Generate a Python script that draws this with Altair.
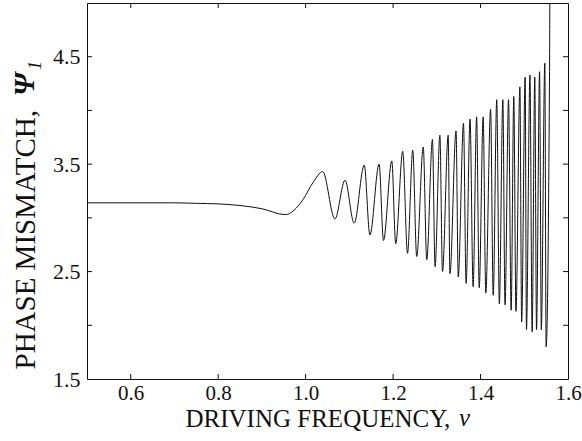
import altair as alt
import pandas as pd

# driving frequency (nu) and phase mismatch (psi_1)
nu = [0.50, 0.60, 0.70, 0.75, 0.80, 0.85, 0.90, 0.953, 0.994, 1.017, 1.039,
      1.067, 1.090, 1.111, 1.134, 1.147, 1.168, 1.178, 1.197, 1.206, 1.222,
      1.233, 1.245, 1.254, 1.269, 1.277, 1.290, 1.296, 1.307, 1.313, 1.326,
      1.330, 1.344, 1.349, 1.361, 1.367, 1.376, 1.383, 1.391, 1.397, 1.406,
      1.412, 1.423, 1.429, 1.437, 1.443, 1.451, 1.456, 1.464, 1.470, 1.476,
      1.481, 1.490, 1.494, 1.502, 1.505, 1.513, 1.518, 1.524, 1.528, 1.535,
      1.539, 1.547, 1.550, 1.558, 1.5585]
psi = [3.14, 3.14, 3.14, 3.135, 3.13, 3.115, 3.085, 3.03, 3.17, 3.33, 3.43,
       2.99, 3.35, 2.95, 3.49, 2.84, 3.50, 2.79, 3.53, 2.76, 3.62,
       2.67, 3.63, 2.64, 3.66, 2.61, 3.73, 2.545, 3.77, 2.50, 3.77,
       2.48, 3.81, 2.45, 3.88, 2.39, 3.92, 2.36, 3.94, 2.35, 3.94,
       2.30, 4.01, 2.28, 4.10, 2.20, 4.10, 2.19, 4.10, 2.14, 4.13,
       2.13, 4.22, 2.03, 4.31, 1.96, 4.33, 1.94, 4.31, 1.96, 4.36,
       1.96, 4.44, 1.80, 4.53, 5.20]

x_label_values = [0.6, 0.8, 1.0, 1.2, 1.4, 1.6]
y_label_values = [1.5, 2.5, 3.5, 4.5]
x_tick_values = [0.6, 0.8, 1.0, 1.2, 1.4]
y_tick_values = [2.0, 2.5, 3.0, 3.5, 4.0, 4.5]

W, H = 481, 376
TL = 5
FONT = "Liberation Serif"
INK = "#111111"

xscale = alt.Scale(domain=[0.5, 1.6], nice=False, zero=False)
yscale = alt.Scale(domain=[1.5, 5.0], nice=False, zero=False)

df = pd.DataFrame({"nu": nu, "psi": psi})

line = alt.Chart(df).mark_line(
    color=INK, strokeWidth=1.0, interpolate="monotone", clip=True
).encode(
    x=alt.X("nu:Q", scale=xscale, axis=alt.Axis(
        values=x_label_values, format=".1f", ticks=False, domain=False, grid=False,
        labelFont=FONT, labelFontSize=21, labelColor=INK, labelPadding=3,
        labelOverlap=False, labelFlush=False,
        title="DRIVING FREQUENCY,", titleFont=FONT, titleFontSize=25,
        titleFontWeight="normal", titleColor=INK, titleAlign="left",
        titleX=98, titleY=47, titleBaseline="alphabetic")),
    y=alt.Y("psi:Q", scale=yscale, axis=alt.Axis(
        values=y_label_values, format=".1f", ticks=False, domain=False, grid=False,
        labelFont=FONT, labelFontSize=22, labelColor=INK, labelPadding=7,
        labelOverlap=False, labelFlush=False,
        title="PHASE MISMATCH,", titleFont=FONT, titleFontSize=29,
        titleFontWeight="normal", titleColor=INK, titleAngle=270, titleAlign="left",
        titleX=-53, titleY=366, titleBaseline="alphabetic")),
)

xt = pd.DataFrame({"v": x_tick_values})
yt = pd.DataFrame({"v": y_tick_values})

tick_bottom = alt.Chart(xt).mark_rule(color=INK).encode(
    x=alt.X("v:Q", scale=xscale, axis=None), y=alt.value(H), y2=alt.value(H - TL))
tick_top = alt.Chart(xt).mark_rule(color=INK).encode(
    x=alt.X("v:Q", scale=xscale, axis=None), y=alt.value(0), y2=alt.value(TL))
tick_left = alt.Chart(yt).mark_rule(color=INK).encode(
    y=alt.Y("v:Q", scale=yscale, axis=None), x=alt.value(0), x2=alt.value(TL))
tick_right = alt.Chart(yt).mark_rule(color=INK).encode(
    y=alt.Y("v:Q", scale=yscale, axis=None), x=alt.value(W), x2=alt.value(W - TL))

nu_sym = alt.Chart(pd.DataFrame({"t": ["ν"]})).mark_text(
    font=FONT, fontSize=25, fontStyle="italic", align="left", baseline="alphabetic",
    color=INK).encode(x=alt.value(372), y=alt.value(423), text="t:N")
psi_sym = alt.Chart(pd.DataFrame({"t": ["Ψ"]})).mark_text(
    font=FONT, fontSize=29, fontStyle="italic", fontWeight="bold", angle=270,
    align="left", baseline="alphabetic", color=INK).encode(
    x=alt.value(-53), y=alt.value(93), text="t:N")
sub_one = alt.Chart(pd.DataFrame({"t": ["1"]})).mark_text(
    font=FONT, fontSize=18, fontStyle="italic", angle=270,
    align="left", baseline="alphabetic", color=INK).encode(
    x=alt.value(-46), y=alt.value(67), text="t:N")

chart = alt.layer(
    line, tick_bottom, tick_top, tick_left, tick_right, nu_sym, psi_sym, sub_one
).resolve_axis(
    x="independent", y="independent"
).properties(
    width=W, height=H,
    padding={"left": 87, "top": 3, "right": 14, "bottom": 62},
    autosize=alt.AutoSizeParams(type="none"),
    background="white",
).configure_view(stroke=INK, strokeWidth=1)

chart.save("out.html", embed_options={"renderer": "svg", "actions": False})
